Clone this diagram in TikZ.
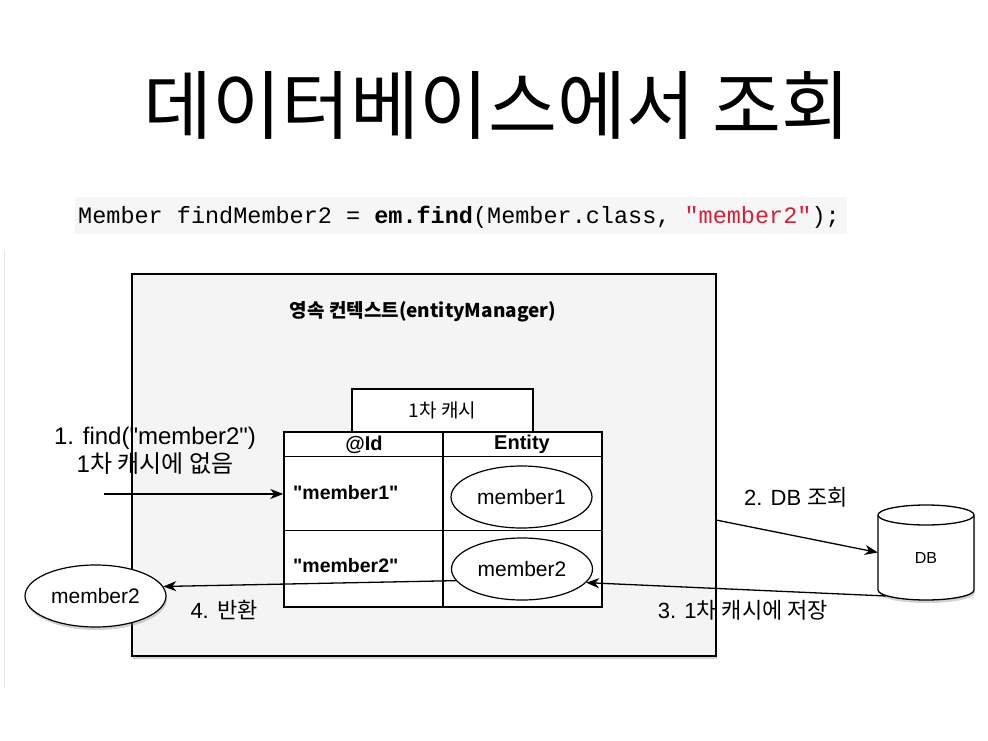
\documentclass[tikz,border=0pt]{standalone}
\usepackage{fontspec}
\setmainfont{Liberation Sans}
\newfontfamily\kr{Noto Sans CJK KR}
\newfontfamily\codefont{Liberation Mono}
\usetikzlibrary{arrows.meta,shadows,calc,shapes.geometric}
\definecolor{codebg}{HTML}{F6F6F6}
\definecolor{boxbg}{HTML}{F4F4F4}
\definecolor{codered}{HTML}{D4213A}
\newcommand\qq{\textquotedbl}
\tikzset{
 conn/.style={line width=1.3pt,-{Stealth[length=13pt,width=10pt,inset=4pt]}},
 shad/.style={drop shadow={shadow xshift=1pt,shadow yshift=-3pt,opacity=0.35}},
 ent/.style={ellipse,draw,line width=1.2pt,fill=white,minimum width=141pt,minimum height=62pt,inner sep=0pt,font=\fontsize{21}{24}\selectfont},
 lbl/.style={font=\fontsize{22}{28}\selectfont,inner sep=0pt},
 grid/.style={line width=1.5pt},
}
\begin{document}
\begin{tikzpicture}[x=1pt,y=1pt]
\useasboundingbox (0,0) rectangle (988,-741);
\fill[white] (0,0) rectangle (988,-741);
\node[font=\kr\fontsize{75}{85}\selectfont] (title) at (497,-105) {데이터베이스에서 조회};
\fill[codebg] (75,-197) rectangle (847,-234);
\node[anchor=west,inner sep=0pt,font=\codefont\fontsize{23.5}{26}\selectfont] (code) at (78,-217) {Member findMember2 = \textbf{em.find}(Member.class, \textcolor{codered}{\qq member2\qq});};
\draw[gray!20,line width=0.8pt] (4,-250) -- (4,-688);
\node[draw,line width=1.8pt,fill=boxbg,shad,minimum width=584pt,minimum height=382pt,inner sep=0pt] (box) at (424,-465) {};
\node[font=\kr\bfseries\fontsize{19}{22}\selectfont] (ctx) at (423,-312) {영속 컨텍스트(entityManager)};
\node[draw,line width=1.5pt,fill=white,minimum width=181pt,minimum height=43pt,inner sep=0pt,font=\kr\fontsize{19}{22}\selectfont] (cache) at (442.5,-410.5) {1차 캐시};
\node[draw,grid,fill=white,minimum width=318pt,minimum height=175pt,inner sep=0pt] (tbl) at (443,-519.5) {};
\draw[grid] (tbl.north) -- (tbl.south);
\draw[grid] ($(tbl.north west)+(0,-25)$) -- ($(tbl.north east)+(0,-25)$);
\draw[grid] ($(tbl.north west)+(0,-99)$) -- ($(tbl.north east)+(0,-99)$);
\node[font=\bfseries\fontsize{20}{24}\selectfont] (hid) at (364,-444.5) {@Id};
\node[font=\bfseries\fontsize{20}{24}\selectfont] (hent) at (522,-444.5) {Entity};
\node[anchor=west,inner sep=0pt,font=\bfseries\fontsize{19.5}{24}\selectfont] (k1) at (293,-493) {\qq member1\qq};
\node[anchor=west,inner sep=0pt,font=\bfseries\fontsize{19.5}{24}\selectfont] (k2) at (293,-566) {\qq member2\qq};
\node[ent] (m1) at (521.5,-497) {member1};
\node[ent] (m2) at (522,-569) {member2};
\node[ent,shad] (ret) at (95.5,-596) {member2};
% DB cylinder
\draw[fill=white,shad,line width=1.3pt] (878,-515) -- (878,-590) arc[start angle=180,end angle=360,x radius=48,y radius=10] -- (974,-515) arc[start angle=0,end angle=180,x radius=48,y radius=10] -- cycle;
\draw[line width=1.3pt] (878,-515) arc[start angle=180,end angle=360,x radius=48,y radius=10];
\node[minimum width=96pt,minimum height=95pt,inner sep=0pt] (db) at (926,-552.5) {};
\node[font=\fontsize{16}{20}\selectfont] (dbl) at (926,-558) {DB};
% connectors
\coordinate (in1) at (104,-494);
\draw[conn] (in1) -- (in1 -| tbl.west);
\coordinate (out2) at (716,-520);
\draw[conn] (out2) -- (db.west);
\coordinate (db3) at (886,-596);
\draw[conn] (db3) -- (m2.-12);
\draw[conn] (m2.190) -- (ret.8);
% labels
\node[lbl,align=center,font=\fontsize{24}{28}\selectfont] (l1) at (155,-451) {1. find(\qq member2\qq)\\1{\kr 차 캐시에 없음}};
\node[lbl] (l2) at (796,-497) {2. DB {\kr 조회}};
\node[lbl] (l3) at (743,-610) {3. 1{\kr 차 캐시에 저장}};
\node[lbl] (l4) at (224,-610) {4. {\kr 반환}};
\end{tikzpicture}
\end{document}
